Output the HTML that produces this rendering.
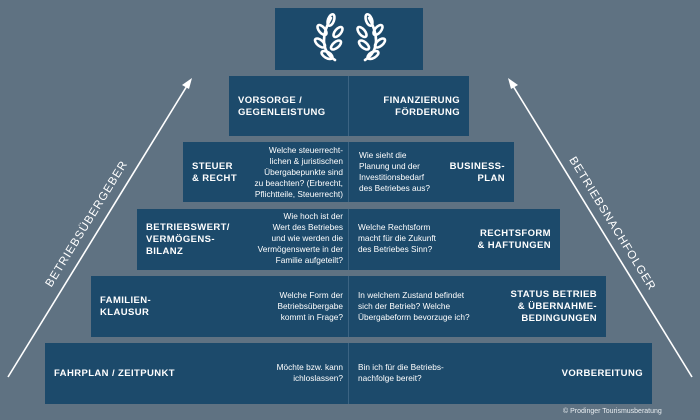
<!DOCTYPE html>
<html><head><meta charset="utf-8"><style>
body{margin:0;width:700px;height:420px;background:#5f7282;position:relative;overflow:hidden;font-family:"Liberation Sans",sans-serif;color:#fff}
.b{position:absolute;background:#1c4a6b}
.d{position:absolute;top:0;bottom:0;width:1px;background:#3c6483}
.t{position:absolute;font-weight:bold;font-size:9.5px;line-height:12px;letter-spacing:0.4px}
.q{position:absolute;font-size:8.3px;line-height:11px}
.r{text-align:right}
.lab{position:absolute;width:200px;text-align:center;font-size:11.5px;line-height:14px;letter-spacing:1px;white-space:nowrap}
</style></head><body>
<svg width="700" height="420" style="position:absolute;left:0;top:0">
<line x1="8" y1="377" x2="190" y2="81" stroke="#fff" stroke-width="1.6"/>
<polygon points="192,78 182,85 189,89" fill="#fff"/>
<line x1="692" y1="377" x2="510" y2="81" stroke="#fff" stroke-width="1.6"/>
<polygon points="508,78 518,85 511,89" fill="#fff"/>
</svg>
<div class="lab" style="left:-13px;top:217px;transform:rotate(-58.4deg)">BETRIEBSÜBERGEBER</div>
<div class="lab" style="left:512px;top:217px;transform:rotate(58.4deg)">BETRIEBSNACHFOLGER</div>

<div class="b" style="left:275px;top:8px;width:148px;height:62px">
<svg width="148" height="62" fill="none" stroke="#fff" stroke-width="2.6" stroke-linecap="round">
<g transform="translate(58,2)">
<path d="M2,50 C-14,40 -10,22 -2,8"/>
<ellipse cx="-2" cy="10" rx="3" ry="6" transform="rotate(20 -2 10)"/>
<ellipse cx="-11" cy="20" rx="3" ry="6" transform="rotate(-40 -11 20)"/>
<ellipse cx="5" cy="22" rx="3" ry="6" transform="rotate(40 5 22)"/>
<ellipse cx="-13" cy="33" rx="3" ry="6" transform="rotate(-50 -13 33)"/>
<ellipse cx="3" cy="35" rx="3" ry="6" transform="rotate(50 3 35)"/>
<ellipse cx="-6" cy="45" rx="3" ry="6" transform="rotate(-60 -6 45)"/>
</g>
<g transform="translate(92,2) scale(-1,1)">
<path d="M2,50 C-14,40 -10,22 -2,8"/>
<ellipse cx="-2" cy="10" rx="3" ry="6" transform="rotate(20 -2 10)"/>
<ellipse cx="-11" cy="20" rx="3" ry="6" transform="rotate(-40 -11 20)"/>
<ellipse cx="5" cy="22" rx="3" ry="6" transform="rotate(40 5 22)"/>
<ellipse cx="-13" cy="33" rx="3" ry="6" transform="rotate(-50 -13 33)"/>
<ellipse cx="3" cy="35" rx="3" ry="6" transform="rotate(50 3 35)"/>
<ellipse cx="-6" cy="45" rx="3" ry="6" transform="rotate(-60 -6 45)"/>
</g>
</svg></div>

<div class="b" style="left:229px;top:76px;width:240px;height:60px"><div class="d" style="left:119px"></div>
<div class="t" style="left:9px;top:19px">VORSORGE /<br>GEGENLEISTUNG</div>
<div class="t r" style="right:9px;top:19px">FINANZIERUNG<br>FÖRDERUNG</div></div>

<div class="b" style="left:183px;top:142px;width:331px;height:60px"><div class="d" style="left:165px"></div>
<div class="t" style="left:9px;top:19px">STEUER<br>&amp; RECHT</div>
<div class="q r" style="left:60px;width:100px;top:3px">Welche steuerrecht-<br>lichen &amp; juristischen<br>Übergabepunkte sind<br>zu beachten? (Erbrecht,<br>Pflichtteile, Steuerrecht)</div>
<div class="q" style="left:176px;top:8px">Wie sieht die<br>Planung und der<br>Investitionsbedarf<br>des Betriebes aus?</div>
<div class="t r" style="right:9px;top:19px">BUSINESS-<br>PLAN</div></div>

<div class="b" style="left:137px;top:209px;width:423px;height:61px"><div class="d" style="left:211px"></div>
<div class="t" style="left:9px;top:13px">BETRIEBSWERT/<br>VERMÖGENS-<br>BILANZ</div>
<div class="q r" style="left:100px;width:106px;top:2px">Wie hoch ist der<br>Wert des Betriebes<br>und wie werden die<br>Vermögenswerte in der<br>Familie aufgeteilt?</div>
<div class="q" style="left:221px;top:13px">Welche Rechtsform<br>macht für die Zukunft<br>des Betriebes Sinn?</div>
<div class="t r" style="right:9px;top:19px">RECHTSFORM<br>&amp; HAFTUNGEN</div></div>

<div class="b" style="left:91px;top:276px;width:515px;height:61px"><div class="d" style="left:257px"></div>
<div class="t" style="left:9px;top:19px">FAMILIEN-<br>KLAUSUR</div>
<div class="q r" style="left:140px;width:112px;top:14px">Welche Form der<br>Betriebsübergabe<br>kommt in Frage?</div>
<div class="q" style="left:267px;top:14px">In welchem Zustand befindet<br>sich der Betrieb? Welche<br>Übergabeform bevorzuge ich?</div>
<div class="t r" style="right:9px;top:13px">STATUS BETRIEB<br>&amp; ÜBERNAHME-<br>BEDINGUNGEN</div></div>

<div class="b" style="left:45px;top:343px;width:607px;height:61px"><div class="d" style="left:303px"></div>
<div class="t" style="left:9px;top:25px">FAHRPLAN / ZEITPUNKT</div>
<div class="q r" style="left:190px;width:108px;top:19px">Möchte bzw. kann<br>ichloslassen?</div>
<div class="q" style="left:313px;top:19px">Bin ich für die Betriebs-<br>nachfolge bereit?</div>
<div class="t r" style="right:9px;top:25px">VORBEREITUNG</div></div>

<div style="position:absolute;left:563px;top:408px;font-size:7px;color:#e8edf0">© Prodinger Tourismusberatung</div>
</body></html>
